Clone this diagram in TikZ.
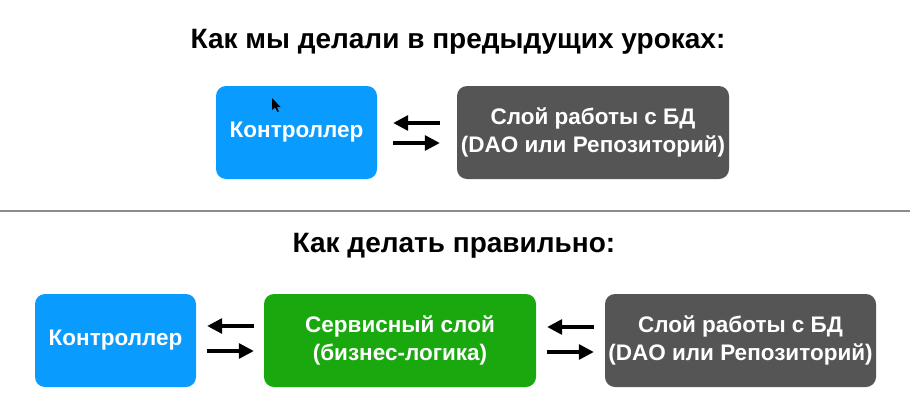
\documentclass[tikz,border=0pt]{standalone}
\usepackage{fontspec}
\setmainfont{Liberation Sans}
\usetikzlibrary{arrows.meta}
\definecolor{ctrlblue}{HTML}{0A9BFF}
\definecolor{dbgray}{HTML}{555555}
\definecolor{svcgreen}{HTML}{1AA80F}
\definecolor{sepgray}{HTML}{8C8C8C}
\tikzset{
  box/.style={rounded corners=10pt, minimum height=93pt, text=white, align=center,
    font=\bfseries\fontsize{22.5}{28}\selectfont, inner sep=0pt},
  title/.style={font=\bfseries\fontsize{28}{32}\selectfont, text=black},
  flow/.style={line width=3.2pt, -{Triangle[length=15pt,width=15pt]}},
}
\begin{document}
\begin{tikzpicture}[x=1pt,y=-1pt]
\useasboundingbox (0,0) rectangle (910,410);
\fill[white] (0,0) rectangle (910,410);
% titles
\node[title] (t1) at (458,42) {Как мы делали в предыдущих уроках:};
\node[title] (t2) at (454,246) {Как делать правильно:};
% separator
\coordinate (sl) at (0,211);
\coordinate (sr) at (910,211);
\draw[sepgray, line width=1.5pt] (sl) -- (sr);
% top row
\node[box, fill=ctrlblue, minimum width=161pt] (c1) at (296.5,132.5) {Контроллер};
\node[box, fill=dbgray, minimum width=272pt] (d1) at (593,132.5) {Слой работы с БД\\(DAO или Репозиторий)};
\draw[flow, shorten >=16pt, shorten <=17pt] ([yshift=9.5pt]d1.west) -- ([yshift=9.5pt]c1.east);
\draw[flow, shorten <=16pt, shorten >=17pt] ([yshift=-10.5pt]c1.east) -- ([yshift=-10.5pt]d1.west);
% cursor
\fill[black] (272,98) -- (272,110) -- (275,107.5) -- (277.5,112) -- (279,111.3) -- (276.8,107) -- (280.5,107) -- cycle;
% bottom row
\node[box, fill=ctrlblue, minimum width=161pt] (c2) at (115.5,340.5) {Контроллер};
\node[box, fill=svcgreen, minimum width=272pt] (s2) at (400,340.5) {Сервисный слой\\(бизнес-логика)};
\node[box, fill=dbgray, minimum width=271pt] (d2) at (740.5,340.5) {Слой работы с БД\\(DAO или Репозиторий)};
\draw[flow, shorten >=11pt, shorten <=10pt] ([yshift=14.5pt]s2.west) -- ([yshift=14.5pt]c2.east);
\draw[flow, shorten <=11pt, shorten >=10pt] ([yshift=-10.5pt]c2.east) -- ([yshift=-10.5pt]s2.west);
\draw[flow, shorten >=11pt, shorten <=11pt] ([yshift=13.5pt]d2.west) -- ([yshift=13.5pt]s2.east);
\draw[flow, shorten <=11pt, shorten >=11pt] ([yshift=-11.5pt]s2.east) -- ([yshift=-11.5pt]d2.west);
\end{tikzpicture}
\end{document}
